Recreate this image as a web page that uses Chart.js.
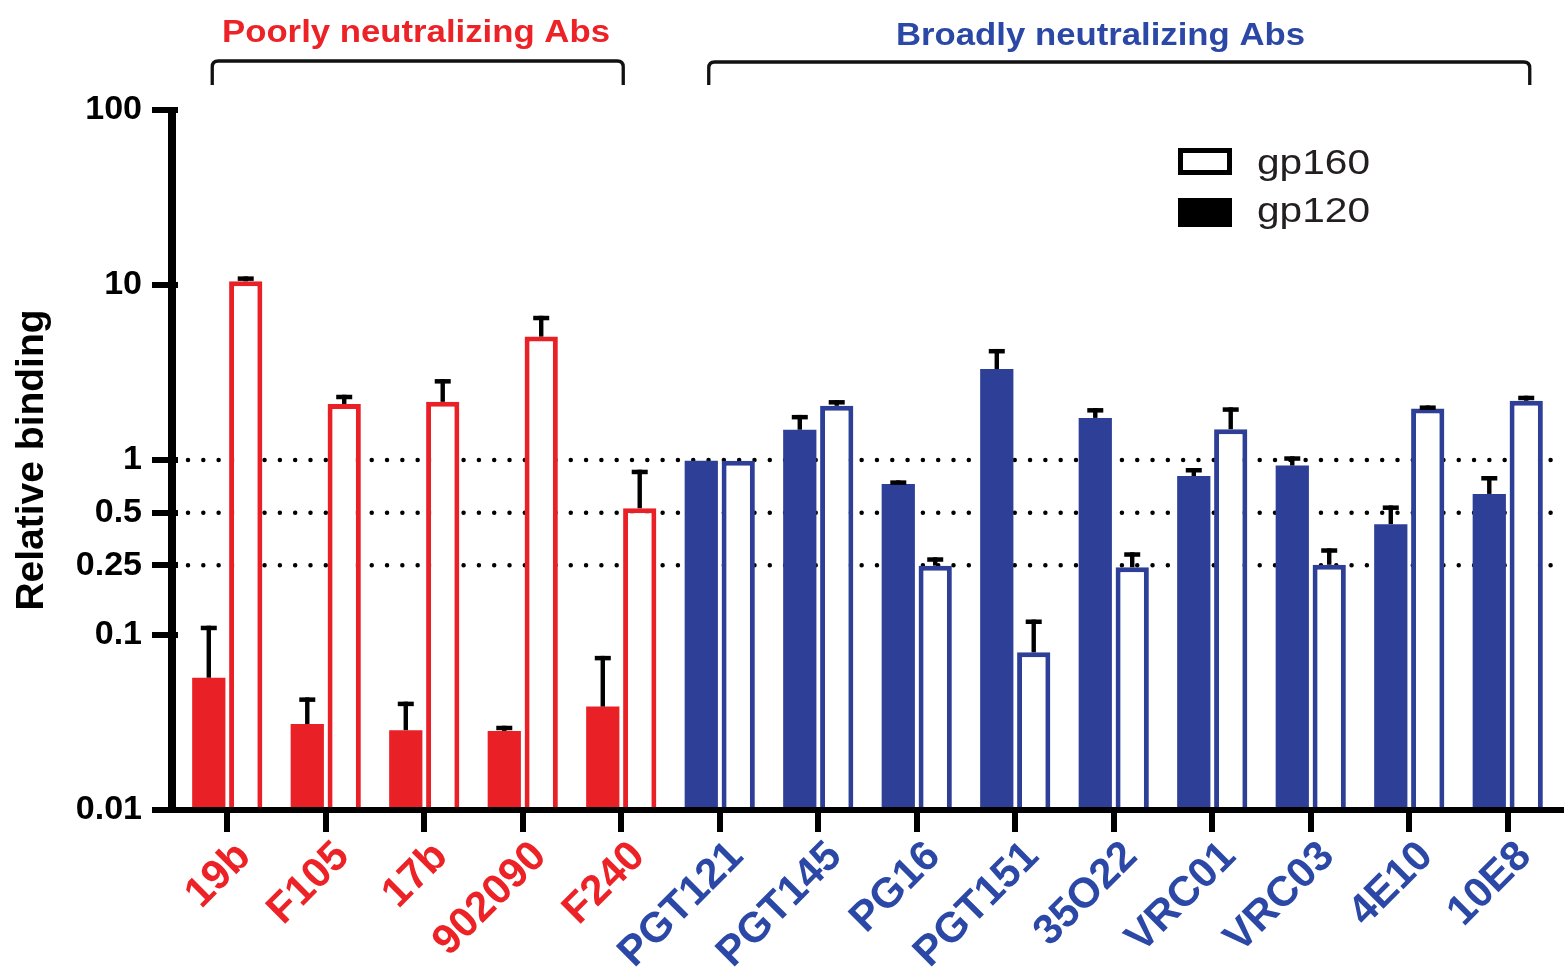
<!DOCTYPE html>
<html><head><meta charset="utf-8">
<script src="https://cdn.jsdelivr.net/npm/chart.js@4/dist/chart.umd.min.js"></script>
<style>html,body{margin:0;padding:0;background:#fff;}#wrap{width:1564px;height:978px;}</style>
</head><body><div id="wrap"><canvas id="c" width="1564" height="978"></canvas></div>
<script>
// ---- data ----
const categories = ['19b','F105','17b','902090','F240','PGT121','PGT145','PG16','PGT151','35O22','VRC01','VRC03','4E10','10E8'];
const poorCount = 5; // first five antibodies are poorly neutralizing
const gp120    = [0.057, 0.031, 0.0286, 0.0283, 0.039, 0.99, 1.49, 0.73, 3.31, 1.74, 0.81, 0.93, 0.43, 0.64];
const gp120Err = [0.056, 0.013, 0.013, 0.002, 0.037, 0, 0.32, 0.035, 1.0, 0.24, 0.09, 0.12, 0.12, 0.17];
const gp160    = [10.5, 2.09, 2.15, 5.07, 0.53, 0.99, 2.04, 0.249, 0.0796, 0.244, 1.50, 0.252, 1.97, 2.18];
const gp160Err = [0.7, 0.27, 0.75, 1.6, 0.35, 0, 0.16, 0.029, 0.043, 0.053, 0.5, 0.061, 0.08, 0.15];
const yTicks = [0.01, 0.1, 0.25, 0.5, 1, 10, 100];
const yTickLabels = ['0.01', '0.1', '0.25', '0.5', '1', '10', '100'];
const refLines = [1, 0.5, 0.25];
const groupTitles = ['Poorly neutralizing Abs', 'Broadly neutralizing Abs'];
const seriesNames = ['gp120', 'gp160'];
const yTitle = 'Relative binding';

// ---- styles ----
const RED = '#E92127', BLUE = '#2E3F97';
const RED_T = '#EC2227', BLUE_T = '#2B48A6';
const FONT = "'Liberation Sans', Arial, Helvetica, sans-serif";
const catColor = (i) => i < poorCount ? RED : BLUE;

const decor = {
  id: 'decor',
  beforeDatasetsDraw(chart) {
    const {ctx, chartArea: a, scales: {y}} = chart;
    ctx.save();
    ctx.strokeStyle = '#000';
    ctx.lineWidth = 4.5;
    ctx.lineCap = 'round';
    ctx.setLineDash([0.01, 15.3]);
    refLines.forEach(v => {
      const py = y.getPixelForValue(v);
      ctx.beginPath();
      ctx.moveTo(a.left + 10, py);
      ctx.lineTo(chart.width, py);
      ctx.stroke();
    });
    ctx.restore();
  },
  afterDatasetsDraw(chart) {
    const {ctx, chartArea: a, scales: {y}} = chart;
    ctx.save();
    ctx.fillStyle = '#000';
    [[0, gp120, gp120Err], [1, gp160, gp160Err]].forEach(([di, vals, errs]) => {
      chart.getDatasetMeta(di).data.forEach((bar, i) => {
        if (!errs[i]) return;
        const top = y.getPixelForValue(vals[i] + errs[i]);
        ctx.fillRect(bar.x - 2.2, top, 4.4, bar.y - top);
        ctx.fillRect(bar.x - 8, top, 16, 4.5);
      });
    });
    // axis lines
    ctx.fillRect(a.left - 10, a.bottom - 3, chart.width - (a.left - 10), 6);
    ctx.fillRect(a.left - 10, a.top - 3, 8, a.bottom - a.top + 6);
    ctx.restore();
  },
  afterDraw(chart) {
    const {ctx, scales: {x}} = chart;
    ctx.save();
    // brackets
    const bracket = (l, r, top, bottom) => {
      const rad = 6;
      ctx.beginPath();
      ctx.moveTo(l, bottom);
      ctx.lineTo(l, top + rad);
      ctx.quadraticCurveTo(l, top, l + rad, top);
      ctx.lineTo(r - rad, top);
      ctx.quadraticCurveTo(r, top, r, top + rad);
      ctx.lineTo(r, bottom);
      ctx.stroke();
    };
    ctx.strokeStyle = '#111';
    ctx.lineWidth = 3.3;
    const b1l = x.getPixelForValue(0) - 15, b1r = x.getPixelForValue(poorCount - 1) + 2;
    const b2l = x.getPixelForValue(poorCount) - 11, b2r = x.getPixelForValue(categories.length - 1) + 22;
    bracket(b1l, b1r, 61, 85);
    bracket(b2l, b2r, 62, 85);
    // stretched text helper
    const stext = (t, xLeft, base, font, color, width) => {
      ctx.font = font;
      ctx.fillStyle = color;
      ctx.textAlign = 'left';
      ctx.textBaseline = 'alphabetic';
      const w = ctx.measureText(t).width;
      ctx.save();
      ctx.translate(xLeft, base);
      ctx.scale(width / w, 1);
      ctx.fillText(t, 0, 0);
      ctx.restore();
    };
    stext(groupTitles[0], 222, 42, 'bold 32px ' + FONT, RED_T, 388);
    stext(groupTitles[1], 896, 45, 'bold 32px ' + FONT, BLUE_T, 409);
    // legend
    ctx.fillStyle = '#000';
    ctx.strokeStyle = '#000';
    ctx.lineWidth = 5;
    ctx.strokeRect(1180.5, 150.5, 49, 22);
    ctx.fillRect(1178, 198, 54, 29);
    stext(seriesNames[1], 1257, 174, '35px ' + FONT, '#231F20', 113);
    stext(seriesNames[0], 1257, 222, '35px ' + FONT, '#231F20', 113);
    ctx.restore();
  }
};

Chart.defaults.font.family = FONT;
new Chart(document.getElementById('c'), {
  type: 'bar',
  data: {
    labels: categories,
    datasets: [
      { label: seriesNames[0], data: gp120, backgroundColor: categories.map((c, i) => catColor(i)),
        borderWidth: 0, barPercentage: 0.9, categoryPercentage: 0.75 },
      { label: seriesNames[1], data: gp160, backgroundColor: '#ffffff', borderColor: categories.map((c, i) => catColor(i)),
        borderWidth: 5, barPercentage: 0.9, categoryPercentage: 0.75 }
    ]
  },
  options: {
    responsive: false,
    animation: false,
    devicePixelRatio: 1,
    layout: { padding: { top: 110, right: 7, left: 0, bottom: 0 } },
    plugins: { legend: { display: false }, title: { display: false }, tooltip: { enabled: false } },
    scales: {
      x: {
        type: 'category',
        offset: true,
        border: { display: false },
        grid: { offset: false, drawOnChartArea: false, drawTicks: true, tickLength: 22, lineWidth: 6, color: '#000' },
        ticks: {
          autoSkip: false, maxRotation: 45, minRotation: 45, padding: 0, labelOffset: 17,
          font: { size: 42, weight: 'bold' },
          color: (c) => c.index < poorCount ? RED_T : BLUE_T
        },
        afterFit: (s) => { s.height = 168; }
      },
      y: {
        type: 'logarithmic',
        min: 0.01, max: 100,
        border: { display: false },
        grid: { drawOnChartArea: false, drawTicks: true, tickLength: 26, lineWidth: 6, color: '#000' },
        afterBuildTicks: (s) => { s.ticks = yTicks.map(v => ({ value: v })); },
        ticks: {
          padding: 10, color: '#000',
          font: { size: 34, weight: 'bold' },
          callback: (v) => yTickLabels[yTicks.indexOf(v)]
        },
        title: { display: true, text: yTitle, color: '#000', font: { size: 39, weight: 'bold' }, padding: { top: 9, bottom: 0 } },
        afterFit: (s) => { s.width = 178; }
      }
    }
  },
  plugins: [decor]
});
</script></body></html>
